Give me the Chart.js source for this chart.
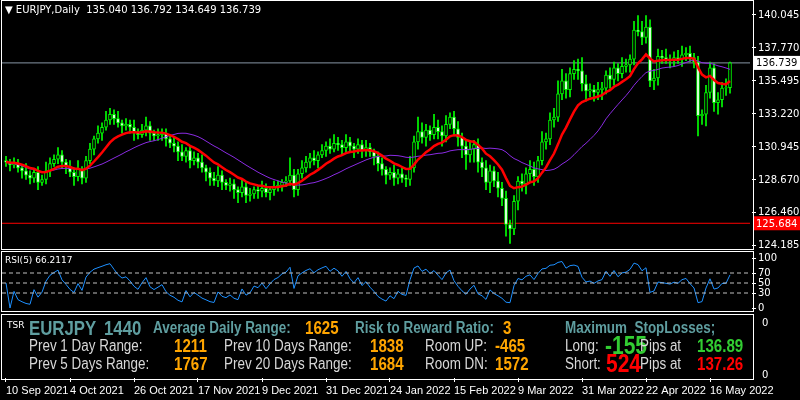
<!DOCTYPE html>
<html><head><meta charset="utf-8">
<script src="https://cdn.jsdelivr.net/npm/chart.js@4/dist/chart.umd.min.js"></script>
<style>
body{margin:0;background:#000;width:800px;height:400px;overflow:hidden;position:relative;font-family:"Liberation Sans",Arial,sans-serif}
.c{position:absolute;left:0}
.b{position:absolute;border:1px solid #fff;pointer-events:none}
.t{position:absolute;white-space:nowrap;line-height:1}
.s{transform:scaleX(0.84);transform-origin:0 0}
.cad{color:#5f9ea0;font-weight:bold;font-size:16px}
.wh{color:#d8d8d8;font-size:16px}
.or{color:#ffa500;font-weight:bold;font-size:18px}
</style></head><body>
<div class="c" style="top:-7px;width:800px;height:263px"><canvas id="main"></canvas></div>
<div class="c" style="top:250px;width:800px;height:70px"><canvas id="rsi"></canvas></div>
<div class="c" style="top:313px;width:800px;height:87px"><canvas id="info"></canvas></div>
<div class="b" style="left:1px;top:0;width:751px;height:248px"></div>
<div class="b" style="left:1px;top:251px;width:751px;height:59px"></div>
<div class="b" style="left:1px;top:314px;width:751px;height:64px"></div>
<div class="t" style="left:5px;top:4px;color:#fff;font:10px 'DejaVu Sans',sans-serif">▼ EURJPY,Daily&nbsp; 135.040 136.792 134.649 136.739</div>
<div class="t" id="rsilbl" style="left:5px;top:255px;color:#fff;font:9px 'DejaVu Sans',sans-serif">RSI(5) 61.1886</div>
<div class="t" style="left:7px;top:320px;color:#fff;font:9px 'DejaVu Sans',sans-serif">TSR</div>
<div class="t s cad" style="left:29px;top:318px;font-size:20px">EURJPY</div>
<div class="t s cad" style="left:104px;top:318px;font-size:20px">1440</div>
<div class="t s cad" style="left:153px;top:320px">Average Daily Range:</div>
<div class="t s or" style="left:305px;top:319px">1625</div>
<div class="t s cad" style="left:355px;top:320px">Risk to Reward Ratio:</div>
<div class="t s or" style="left:503px;top:319px">3</div>
<div class="t s cad" style="left:565px;top:320px">Maximum&nbsp; StopLosses;</div>
<div class="t s wh" style="left:29px;top:338px">Prev 1 Day Range:</div>
<div class="t s or" style="left:174px;top:337px">1211</div>
<div class="t s wh" style="left:224px;top:338px">Prev 10 Days Range:</div>
<div class="t s or" style="left:370px;top:337px">1838</div>
<div class="t s wh" style="left:425px;top:338px">Room UP:</div>
<div class="t s or" style="left:495px;top:337px">-465</div>
<div class="t s wh" style="left:565px;top:338px">Long:</div>
<div class="t s" style="left:605px;top:333px;color:#32cd32;font-weight:bold;font-size:25px">-155</div>
<div class="t s wh" style="left:640px;top:338px">Pips at</div>
<div class="t s" style="left:697px;top:337px;color:#32cd32;font-weight:bold;font-size:18px">136.89</div>
<div class="t s wh" style="left:29px;top:356px">Prev 5 Days Range:</div>
<div class="t s or" style="left:174px;top:355px">1767</div>
<div class="t s wh" style="left:224px;top:356px">Prev 20 Days Range:</div>
<div class="t s or" style="left:370px;top:355px">1684</div>
<div class="t s wh" style="left:425px;top:356px">Room DN:</div>
<div class="t s or" style="left:495px;top:355px">1572</div>
<div class="t s wh" style="left:565px;top:356px">Short:</div>
<div class="t s" style="left:606px;top:351px;color:#ff0000;font-weight:bold;font-size:25px">524</div>
<div class="t s wh" style="left:640px;top:356px">Pips at</div>
<div class="t s" style="left:697px;top:355px;color:#ff0000;font-weight:bold;font-size:18px">137.26</div>
<script>
const closes=[129.9,129.7,129.8,129.5,129.3,129.0,128.8,129.2,128.5,128.7,
129.3,129.8,130.1,130.4,129.9,129.6,129.2,128.9,129.4,128.8,
130.0,130.8,131.5,131.9,132.3,132.8,133.2,132.9,132.6,132.4,
132.5,132.3,132.0,131.8,132.1,132.4,131.9,131.7,131.8,131.9,
131.5,131.2,131.0,130.6,130.3,130.7,130.0,130.2,
129.9,129.5,129.2,128.8,128.6,129.0,128.5,128.3,128.4,
128.0,127.8,128.2,127.6,127.7,128.0,127.9,128.1,127.8,128.0,128.2,128.3,128.5,128.6,
129.0,128.0,129.1,129.5,
129.9,130.2,130.0,130.4,130.7,131.0,130.8,131.2,
131.1,130.9,131.3,131.0,130.8,131.1,130.7,130.9,130.6,130.3,
129.8,129.4,129.0,129.2,128.8,129.1,128.8,128.7,
129.5,131.3,132.0,131.6,
132.1,131.8,132.3,132.0,131.7,132.5,133.0,132.2,
131.6,131.0,130.4,130.8,131.1,129.9,
129.5,128.5,129.3,128.6,128.1,127.4,
125.6,125.3,127.2,128.6,128.4,129.1,
129.4,128.9,130.0,131.3,131.5,132.8,
133.0,134.6,135.5,134.9,136.0,136.3,
136.2,135.3,134.8,134.9,134.7,134.9,135.0,135.9,
135.6,136.4,136.0,136.5,136.6,137.0,
139.0,138.9,138.5,139.2,
135.5,135.7,137.2,137.1,137.0,
136.9,137.1,137.0,137.3,137.4,137.1,136.8,
133.1,133.2,134.7,136.4,134.0,134.2,135.0,135.04,136.739];
const upperWick=[0.3,0.2,0.4,0.3,0.2,0.5,0.3,0.2,0.4,0.3, 0.6,0.4,0.3,0.5,0.3,0.2,0.4,0.3,0.6,0.2, 0.3,0.4,0.2,0.5,0.3,0.6,0.4,0.3,0.5,0.2,
0.4,0.3,0.5,0.2,0.4,0.6,0.3,0.2,0.4,0.3, 0.3,0.2,0.4,0.3,0.5,0.2,0.3,0.4, 0.3,0.5,0.2,0.3,0.4,0.6,0.3,0.2,0.4,
0.3,0.2,0.5,0.3,0.4,0.2,0.3,0.5,0.3,0.2,0.4,0.3,0.2,0.3, 1.2,0.4,0.3,0.5, 0.4,0.3,0.5,0.2,0.4,0.3,0.5,0.6,
0.4,0.3,0.5,0.3,0.2,0.4,0.3,0.5,0.3,0.2, 0.3,0.4,0.2,0.3,0.5,0.3,0.4,0.2, 0.8,0.4,1.0,0.6, 0.4,0.3,0.9,0.5,0.4,0.6,0.3,0.4,
0.5,0.3,0.4,0.6,0.3,0.4, 0.3,0.5,0.4,0.3,0.6,0.4, 0.5,0.3,0.4,0.3,0.5,0.4, 0.6,0.5,0.3,0.7,0.4,0.5, 0.6,0.9,0.8,0.5,0.4,0.6,
0.7,0.9,0.6,0.4,0.3,0.5,0.4,0.3, 0.5,0.4,0.3,0.6,0.4,0.3, 0.6,1.0,0.7,0.8, 0.5,0.6,0.5,0.4,0.6, 0.3,0.4,0.5,0.6,0.4,0.5,0.3,
0.4,0.3,0.5,0.4,0.3,0.5,0.4,0.6,0.05];
const lowerWick=[0.3,0.4,0.2,0.3,0.5,0.3,0.4,0.3,0.5,0.2, 0.3,0.4,0.2,0.3,0.4,0.5,0.3,0.6,0.3,0.4, 0.3,0.2,0.4,0.3,0.5,0.2,0.3,0.4,0.3,0.5,
0.3,0.4,0.6,0.3,0.2,0.4,0.5,0.3,0.3,0.4, 0.5,0.3,0.4,0.6,0.3,0.4,0.5,0.3, 0.4,0.3,0.6,0.5,0.3,0.4,0.5,0.3,0.4,
0.6,0.7,0.3,0.5,0.4,0.3,0.5,0.4,0.3,0.5,0.4,0.3,0.4,0.3, 0.3,0.5,0.4,0.3, 0.3,0.4,0.3,0.5,0.2,0.4,0.3,0.2,
0.4,0.5,0.3,0.4,0.6,0.3,0.5,0.4,0.3,0.6, 0.5,0.4,0.6,0.3,0.5,0.4,0.3,0.5, 0.4,0.3,0.5,0.4, 0.6,0.4,0.3,0.5,0.7,0.4,0.3,0.5,
0.6,0.8,1.0,0.5,0.9,0.7, 0.6,0.5,0.7,0.4,0.6,0.5, 0.8,1.0,0.4,0.6,0.5,0.7, 0.5,0.6,0.4,0.3,0.5,0.4, 0.5,0.3,0.4,0.6,0.5,0.4,
0.6,0.5,0.7,0.4,0.6,0.5,0.7,0.4, 0.6,0.4,0.5,0.3,0.4,0.5, 0.4,0.3,0.5,0.4, 0.4,0.6,0.5,0.4,0.3, 0.5,0.4,0.3,0.5,0.4,0.3,0.4,
1.4,0.6,0.8,0.4,0.6,0.8,0.5,0.5,0.39];
const priceTicks=[124.185,126.460,128.670,130.945,133.220,135.495,137.770,140.045];
const rsiTicks=[0,30,50,70,100];
const rsiLevels=[30,50,70];
const dateLabels=["10 Sep 2021","4 Oct 2021","26 Oct 2021","17 Nov 2021","9 Dec 2021","31 Dec 2021","24 Jan 2022","15 Feb 2022","9 Mar 2022","31 Mar 2022","22 Apr 2022","16 May 2022"];
const bidPrice=136.739, lowLine=125.684;

const N=188, off=1;
const labels=Array.from({length:N},(_,i)=>i);
const n=closes.length;
const opens=closes.map((c,i)=>i===0?130.0:(i===n-1?135.040:closes[i-1]));
const body=new Array(N).fill(null), wick=new Array(N).fill(null), bodyBg=new Array(N).fill('#000');
for(let i=0;i<n;i++){const o=opens[i],c=closes[i];
 body[i+off]=[Math.min(o,c),Math.max(o,c)+ (o===c?0.05:0)];
 wick[i+off]=[Math.min(o,c)-lowerWick[i],Math.max(o,c)+upperWick[i]];
 bodyBg[i+off]=c>=o?'#000':'#fff';}
const ema=[],sma=[];let e=closes[0];
for(let i=0;i<n;i++){e=i===0?closes[0]:e+(closes[i]-e)*2/(12+1);ema.push(e);
 const s=Math.max(0,i-23);const w=closes.slice(s,i+1);sma.push(w.reduce((a,b)=>a+b,0)/w.length);}
const rsi=[];let ag=0,al=0;
for(let i=0;i<n;i++){if(i===0){rsi.push(50);continue;}const d=closes[i]-closes[i-1];
 const g=Math.max(d,0),l=Math.max(-d,0);
 if(i<=5){ag+=g/5;al+=l/5;}else{ag=(ag*4+g)/5;al=(al*4+l)/5;}
 rsi.push(al===0?100:100-100/(1+ag/al));}
const pad=a=>{const r=new Array(N).fill(null);a.forEach((v,i)=>r[i+off]=v);return r;};
const full=v=>new Array(N).fill(v);
document.getElementById('rsilbl').textContent='RSI(5) '+rsi[n-1].toFixed(4);

const F="'DejaVu Sans',sans-serif";
const xHidden={type:'category',display:false,offset:true,grid:{display:false}};
const rightAxis=(ticks,min,max,fmt)=>({position:'right',min,max,afterFit:s=>{s.width=48;},
 afterBuildTicks:s=>{s.ticks=ticks.map(v=>({value:v}));},
 grid:{drawOnChartArea:false,color:'#fff',tickLength:4,drawTicks:true},border:{display:false},
 ticks:{color:'#fff',font:{size:10,family:F},padding:2,autoSkip:false,callback:fmt}});

const boxPlugin={id:'box',afterDraw(ch){const y=ch.scales.y,ctx=ch.ctx;
 [[bidPrice,'#fff','#000'],[lowLine,'#ff0000','#fff']].forEach(([v,bg,fg])=>{const py=y.getPixelForValue(v);
 ctx.fillStyle=bg;ctx.fillRect(753,py-7,47,14);ctx.fillStyle=fg;ctx.font='10px '+F;ctx.textBaseline='middle';ctx.fillText(v.toFixed(3),756,py+1);});}};

new Chart(document.getElementById('main'),{type:'bar',plugins:[boxPlugin],
 data:{labels,datasets:[
 {type:'line',data:full(bidPrice),borderColor:'#8796a5',borderWidth:1,pointRadius:0,order:5},
 {type:'line',data:full(lowLine),borderColor:'#ff0000',borderWidth:1,pointRadius:0,order:5},
 {data:wick,backgroundColor:'#00ff00',barThickness:1,grouped:false,order:4},
 {data:body,backgroundColor:bodyBg,borderColor:'#00ff00',borderWidth:1,borderSkipped:false,barThickness:3,grouped:false,order:3},
 {type:'line',data:pad(sma),borderColor:'#8a2be2',borderWidth:1,pointRadius:0,order:2},
 {type:'line',data:pad(ema),borderColor:'#ff0000',borderWidth:2.5,pointRadius:0,order:1}]},
 options:{responsive:true,maintainAspectRatio:false,animation:false,layout:{padding:0},
 plugins:{legend:{display:false},tooltip:{enabled:false}},
 scales:{x:xHidden,y:rightAxis(priceTicks,123.979,141.006,v=>v.toFixed(3))}}});

new Chart(document.getElementById('rsi'),{type:'line',
 data:{labels,datasets:[
 ...rsiLevels.map(l=>({data:full(l),borderColor:'#c0c0c0',borderWidth:1,borderDash:[4,3],pointRadius:0})),
 {data:pad(rsi),borderColor:'#1e90ff',borderWidth:1,pointRadius:0}]},
 options:{responsive:true,maintainAspectRatio:false,animation:false,layout:{padding:0},
 plugins:{legend:{display:false},tooltip:{enabled:false}},
 scales:{x:xHidden,y:rightAxis(rsiTicks,-8,100,v=>String(v))}}});

const tickIdx=dateLabels.map((_,k)=>off+16*k);
new Chart(document.getElementById('info'),{type:'line',
 data:{labels,datasets:[{data:[],pointRadius:0}]},
 options:{responsive:true,maintainAspectRatio:false,animation:false,layout:{padding:{top:3}},
 plugins:{legend:{display:false},tooltip:{enabled:false}},
 scales:{x:{type:'category',offset:true,afterFit:s=>{s.height=22;},
   afterBuildTicks:s=>{s.ticks=tickIdx.map(v=>({value:v}));},
   grid:{drawOnChartArea:false,color:'#fff',tickLength:4},border:{display:false},
   ticks:{color:'#fff',font:{size:11,family:"'Liberation Sans',Arial,sans-serif"},maxRotation:0,autoSkip:false,align:'start',padding:2,
    callback:(v,i)=>dateLabels[i]}},
  y:{position:'right',min:0,max:10,afterFit:s=>{s.width=48;},
   afterBuildTicks:s=>{s.ticks=[{value:0.4},{value:9.6}];},
   grid:{drawOnChartArea:false,display:false},border:{display:false},
   ticks:{color:'#fff',font:{size:10,family:F},padding:2,autoSkip:false,callback:()=>'0'}}}}});
</script></body></html>
